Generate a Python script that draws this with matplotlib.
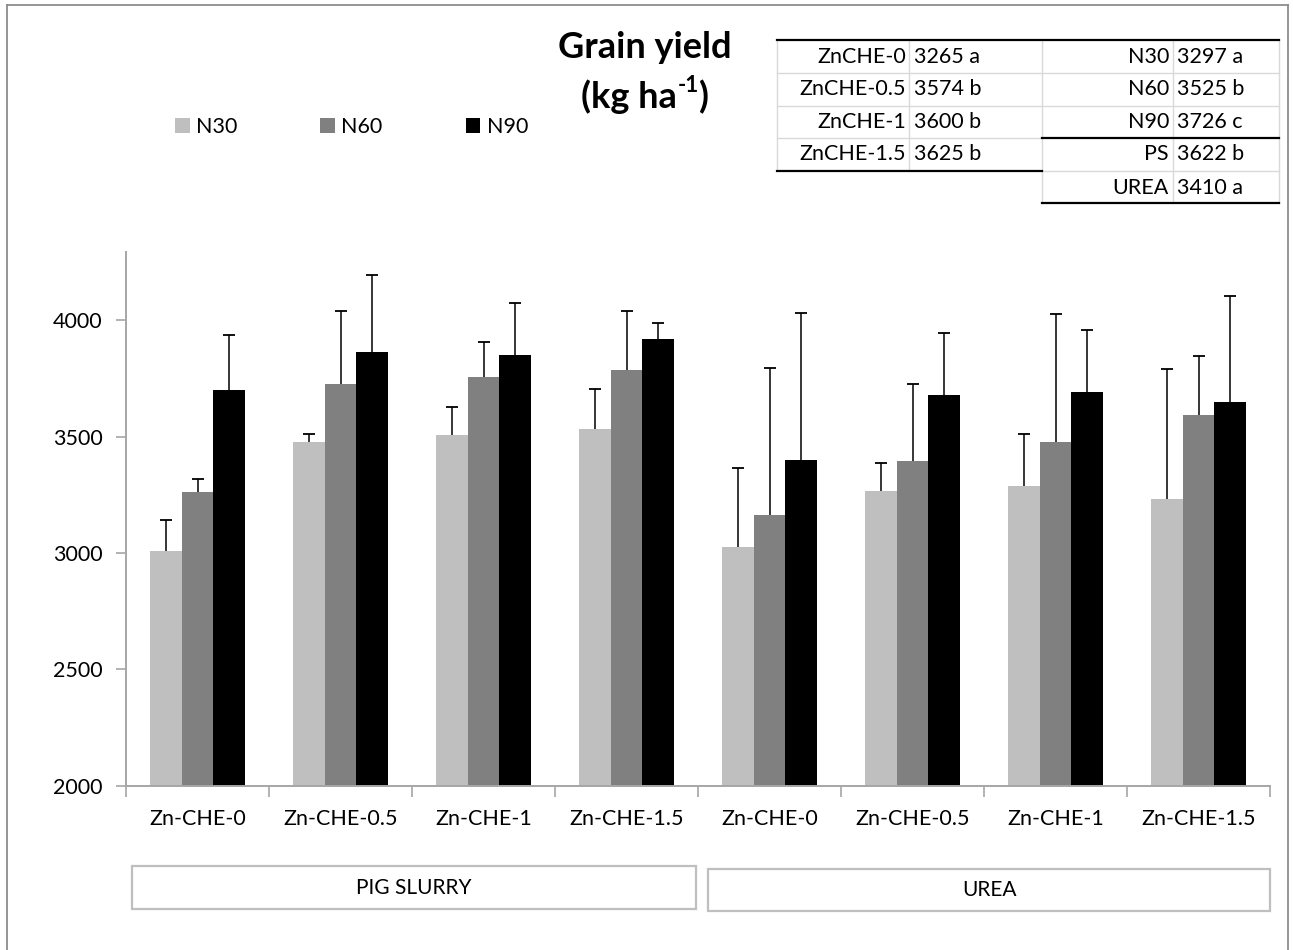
import matplotlib
matplotlib.use("Agg")
import matplotlib.pyplot as plt
import numpy as np
from matplotlib.lines import Line2D
from matplotlib.patches import Rectangle, Patch

plt.rcParams['font.family'] = ['Lato', 'DejaVu Sans']

# ---------------- data ----------------
categories = ['Zn-CHE-0', 'Zn-CHE-0.5', 'Zn-CHE-1', 'Zn-CHE-1.5',
              'Zn-CHE-0', 'Zn-CHE-0.5', 'Zn-CHE-1', 'Zn-CHE-1.5']
series_names = ['N30', 'N60', 'N90']
n30 = [3010, 3476, 3506, 3533, 3025, 3268, 3288, 3232]
n60 = [3264, 3724, 3755, 3787, 3165, 3396, 3477, 3592]
n90 = [3701, 3865, 3850, 3918, 3401, 3679, 3692, 3647]
n30_err = [131, 36, 122, 171, 341, 118, 221, 558]
n60_err = [53, 315, 152, 252, 631, 331, 549, 254]
n90_err = [235, 329, 222, 72, 629, 264, 266, 457]
groups = ['PIG SLURRY', 'UREA']
y_ticks = [2000, 2500, 3000, 3500, 4000]

zn_labels = ['ZnCHE-0', 'ZnCHE-0.5', 'ZnCHE-1', 'ZnCHE-1.5']
zn_means = [3265, 3574, 3600, 3625]
zn_letters = ['a', 'b', 'b', 'b']
n_labels = ['N30', 'N60', 'N90']
n_means = [3297, 3525, 3726]
n_letters = ['a', 'b', 'c']
src_labels = ['PS', 'UREA']
src_means = [3622, 3410]
src_letters = ['b', 'a']

colors = ['#bfbfbf', '#808080', '#000000']
axis_gray = '#a6a6a6'

# ---------------- figure ----------------
W, H = 1293, 950
fig = plt.figure(figsize=(W / 100, H / 100), dpi=100)
fig.patch.set_facecolor('white')

def fx(x):
    return x / W

def fy(y):
    return 1 - y / H

FS = 15.5

ax = fig.add_axes([fx(126), fy(785.7), fx(1270) - fx(126), fy(252) - fy(785.7)])
x = np.arange(len(categories))
bw = 1 / 4.5
series = [n30, n60, n90]
errs = [n30_err, n60_err, n90_err]
handles = []
for i, (vals, err, c, name) in enumerate(zip(series, errs, colors, series_names)):
    pos = x + (i - 1) * bw
    ax.bar(pos, np.array(vals) - 2000, width=bw, bottom=2000, color=c, label=name)
    eb = ax.errorbar(pos, vals, yerr=[np.zeros(len(err)), err], fmt='none',
                     ecolor='black', elinewidth=1.1, capsize=4.3, capthick=1.3)
    # only the upper cap is shown
    eb[1][0].set_visible(False)
    handles.append(Patch(facecolor=c, edgecolor='none', label=name))

ax.set_xlim(-0.5, len(categories) - 0.5)
ax.set_ylim(2000, 4293)
ax.set_yticks(y_ticks)
ax.set_yticklabels([str(v) for v in y_ticks], fontsize=FS)
ax.set_xticks(x)
ax.set_xticklabels(categories, fontsize=FS)
ax.set_xticks(np.arange(-0.5, len(categories)), minor=True)
ax.tick_params(axis='x', which='major', length=0, pad=17)
ax.tick_params(axis='x', which='minor', length=8, width=1.2, color=axis_gray, direction='out')
ax.tick_params(axis='y', length=7, width=1.2, color=axis_gray, pad=10)
for s in ['top', 'right']:
    ax.spines[s].set_visible(False)
for s in ['left', 'bottom']:
    ax.spines[s].set_color(axis_gray)
    ax.spines[s].set_linewidth(1.4)

# legend
fig.legend(handles=handles, loc='center left',
           bbox_to_anchor=(fx(175), fy(127)), bbox_transform=fig.transFigure,
           ncol=3, frameon=False, fontsize=FS, borderpad=0, borderaxespad=0,
           handlelength=0.68, handleheight=0.68, handletextpad=0.3,
           columnspacing=3.85)

# title
TFS = 26
fig.text(fx(645), fy(47), 'Grain yield', ha='center', va='center',
         fontsize=TFS, fontweight='bold')
renderer = fig.canvas.get_renderer()
parts = [('(kg ha', TFS, 0), ('-1', TFS * 0.62, 11), (')', TFS, 0)]
objs = []
for txt, size, dy in parts:
    t = fig.text(0, fy(97 - dy), txt, ha='left', va='center', fontsize=size,
                 fontweight='bold')
    objs.append(t)
widths = [o.get_window_extent(renderer).width for o in objs]
start = 645 - sum(widths) / 2
for o, w in zip(objs, widths):
    o.set_x(fx(start))
    start += w

# group boxes
box_specs = [(132, 866, 696, 909), (708, 869, 1270, 911)]
for name, (x0, y0, x1, y1) in zip(groups, box_specs):
    fig.patches.append(Rectangle((fx(x0), fy(y1)), fx(x1) - fx(x0), fy(y0) - fy(y1),
                                 transform=fig.transFigure, facecolor='white',
                                 edgecolor='#bfbfbf', linewidth=1.6))
    fig.text(fx((x0 + x1) / 2), fy((y0 + y1) / 2), name, ha='center', va='center',
             fontsize=FS - 0.5)

# figure border (left, top, right)
def fline(xs, ys, color, lw):
    fig.add_artist(Line2D([fx(v) for v in xs], [fy(v) for v in ys],
                          transform=fig.transFigure, color=color, linewidth=lw))

fline([7, 7], [5, 950], '#8c8c8c', 1.3)
fline([7, 1288], [5, 5], '#8c8c8c', 1.3)
fline([1288, 1288], [5, 950], '#8c8c8c', 1.3)

# summary table
grid = '#d9d9d9'
fline([777, 1279], [73, 73], grid, 1.0)
fline([777, 1279], [106, 106], grid, 1.0)
fline([777, 1042], [138, 138], grid, 1.0)
fline([1042, 1279], [171, 171], grid, 1.0)
fline([777, 777], [40, 171], grid, 1.0)
fline([909, 909], [40, 171], grid, 1.0)
fline([1042, 1042], [40, 203], grid, 1.0)
fline([1173, 1173], [40, 203], grid, 1.0)
fline([1279, 1279], [40, 203], grid, 1.0)
fline([777, 1279], [40, 40], 'black', 1.6)
fline([777, 1042], [171, 171], 'black', 1.6)
fline([1042, 1279], [138, 138], 'black', 1.6)
fline([1042, 1279], [203, 203], 'black', 1.6)

row_y = [57, 89, 122, 154, 188]
for i, (lab, m, l) in enumerate(zip(zn_labels, zn_means, zn_letters)):
    fig.text(fx(906), fy(row_y[i]), lab, ha='right', va='center', fontsize=FS)
    fig.text(fx(914), fy(row_y[i]), f'{m} {l}', ha='left', va='center', fontsize=FS)
right_labels = n_labels + src_labels
right_means = n_means + src_means
right_letters = n_letters + src_letters
for i, (lab, m, l) in enumerate(zip(right_labels, right_means, right_letters)):
    fig.text(fx(1169), fy(row_y[i]), lab, ha='right', va='center', fontsize=FS)
    fig.text(fx(1177), fy(row_y[i]), f'{m} {l}', ha='left', va='center', fontsize=FS)

fig.savefig('out.png', dpi=100, facecolor='white')
